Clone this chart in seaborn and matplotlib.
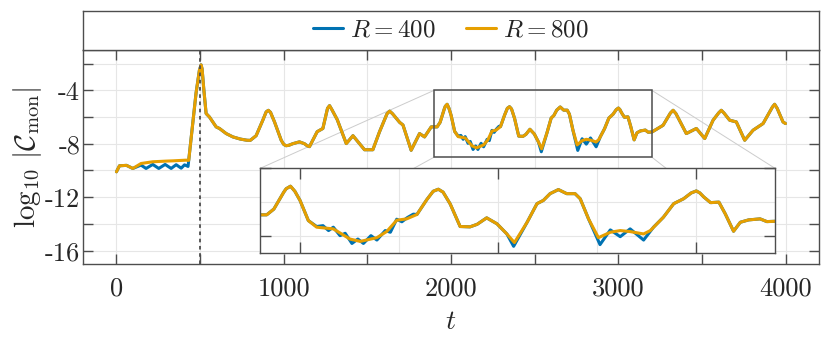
import numpy as np
import pandas as pd
import seaborn as sns
import matplotlib.pyplot as plt
from matplotlib.patches import Rectangle, ConnectionPatch
from matplotlib.lines import Line2D

# values (log10 of the monitor quantity)
# points where both runs overlap
t_shared = [0, 18, 60, 98, 476, 496, 506, 512, 522, 536, 556, 596, 616, 656, 696, 740, 780, 800,
            835, 875, 895, 908, 921, 945, 985, 1000, 1014, 1030, 1054, 1094, 1124, 1140, 1154,
            1200, 1234, 1262, 1274, 1288, 1320, 1374, 1414, 1453, 1483, 1533, 1573, 1618, 1633,
            1650, 1693, 1713, 1762, 1812, 1842, 1882, 1917, 1935, 1960, 1966, 1977, 1988, 2001,
            2022, 2321, 2337, 2350, 2362, 2380, 2405, 2430, 2448, 2472, 2498, 2523, 2574, 2599,
            2615, 2632, 2653, 2674, 2695, 2708, 2729, 2918, 2944, 2969, 2988, 3001, 3010, 3020,
            3037, 3058, 3074, 3095, 3112, 3133, 3162, 3179, 3202, 3268, 3312, 3328, 3345, 3407,
            3467, 3517, 3567, 3600, 3616, 3632, 3666, 3706, 3756, 3806, 3866, 3922, 3935, 3950,
            3985, 4000]
logc_shared = [-10.1, -9.65, -9.62, -9.85, -4.2, -2.5, -2.1, -2.4, -3.9, -5.74, -6.0, -6.74, -6.86,
               -7.24, -7.49, -7.65, -7.74, -7.75, -7.4, -6.24, -5.62, -5.5, -5.65, -6.37, -7.74,
               -8.05, -8.15, -8.12, -8.0, -7.86, -8.0, -8.15, -8.22, -7.1, -6.86, -5.35, -5.15,
               -5.45, -6.2, -7.99, -7.4, -7.99, -8.45, -8.45, -7.1, -5.75, -5.56, -5.75, -6.4,
               -6.6, -8.49, -7.24, -7.49, -6.74, -6.74, -6.4, -5.4, -5.2, -5.05, -5.35, -5.89,
               -7.08, -5.84, -5.35, -5.23, -5.4, -6.1, -7.43, -7.45, -7.3, -6.92, -7.27, -7.87,
               -7.18, -6.08, -5.89, -5.49, -5.25, -5.49, -5.49, -5.79, -6.98, -6.88, -6.08, -5.79,
               -5.45, -5.33, -5.45, -5.69, -6.02, -5.99, -6.68, -7.71, -7.18, -7.04, -6.98, -7.14,
               -7.12, -6.62, -5.7, -5.5, -5.75, -7.24, -6.86, -7.61, -6.24, -5.7, -5.5, -5.7,
               -6.24, -6.37, -7.74, -6.99, -6.49, -5.25, -5.05, -5.35, -6.37, -6.49]

# R = 800 where it differs from R = 400
t_800 = [147, 217, 260, 300, 340, 380, 416, 432, 2043, 2085, 2127, 2153, 2195, 2220, 2245, 2270,
         2296, 2542, 2754, 2784, 2809, 2834, 2868, 2885]
logc_800 = [-9.48, -9.35, -9.32, -9.3, -9.28, -9.25, -9.23, -9.25, -7.47, -7.57, -8.17, -8.31,
            -8.09, -7.72, -7.06, -6.98, -6.72, -8.38, -8.09, -7.77, -7.67, -7.73, -7.87, -7.67]

# R = 400 where it differs from R = 800
t_400 = [147, 177, 217, 253, 291, 327, 357, 387, 407, 428, 2043, 2059, 2073, 2085, 2102, 2115,
         2132, 2147, 2161, 2180, 2195, 2216, 2229, 2245, 2258, 2272, 2287, 2296, 2540, 2758,
         2784, 2809, 2834, 2868, 2893]
logc_400 = [-9.6, -9.85, -9.55, -9.85, -9.55, -9.85, -9.57, -9.83, -9.58, -9.7, -7.43, -7.38,
            -7.67, -7.47, -7.97, -7.83, -8.43, -8.17, -8.43, -7.97, -8.23, -7.67, -7.77, -7.0,
            -7.15, -6.9, -6.7, -6.72, -8.6, -8.5, -7.63, -8.03, -7.57, -8.23, -7.47]

runs = ["400", "800"]
t_switch = 500
zoom_t = (1900, 3200)
zoom_y = (-9, -4)

df_400 = pd.DataFrame({"t": t_shared + t_400, "logC": logc_shared + logc_400, "R": "400"})
df_800 = pd.DataFrame({"t": t_shared + t_800, "logC": logc_shared + logc_800, "R": "800"})
df = pd.concat([df_400, df_800]).sort_values(["R", "t"]).reset_index(drop=True)

sns.set_theme(style="white")
plt.rcParams["font.family"] = "serif"
plt.rcParams["font.serif"] = ["cmr10"]
plt.rcParams["mathtext.fontset"] = "cm"
plt.rcParams["axes.unicode_minus"] = False
plt.rcParams["xtick.direction"] = "in"
plt.rcParams["ytick.direction"] = "in"
plt.rcParams["xtick.bottom"] = True
plt.rcParams["ytick.left"] = True
plt.rcParams["xtick.top"] = True
plt.rcParams["ytick.right"] = True

palette = {"400": "#0072B2", "800": "#E69F00"}
spine_col = "0.3"
grid_col = "#e6e6e6"
lw = 2.2

fig = plt.figure(figsize=(8.3, 3.46), dpi=100)
ax = fig.add_axes([0.1, 0.237, 0.8867, 0.618])
ax_leg = fig.add_axes([0.1, 0.855, 0.8867, 0.113])

# main curves
sns.lineplot(data=df, x="t", y="logC", hue="R", hue_order=runs, palette=palette,
             estimator=None, sort=True, lw=lw, legend=False, ax=ax)
for line in ax.get_lines():
    line.set_solid_joinstyle("round")
ax.axvline(t_switch, color=spine_col, ls=(0, (2, 2)), lw=1.3, zorder=2.5)

ax.set_xlim(-200, 4200)
ax.set_ylim(-17, -1)
xt = np.arange(0, 4001, 500)
ax.set_xticks(xt)
ax.set_xticklabels([str(v) if v % 1000 == 0 else "" for v in xt])
yt = np.arange(-16, -1, 2)
ax.set_yticks(yt)
ax.set_yticklabels([str(v) if v % 4 == 0 else "" for v in yt])
ax.tick_params(length=7, width=1, color=spine_col, labelsize=19)
ax.tick_params(axis="x", pad=9)
ax.tick_params(axis="y", pad=2)
ax.grid(True, color=grid_col, lw=0.8)
ax.set_axisbelow(True)
for s in ax.spines.values():
    s.set_color(spine_col)
    s.set_linewidth(1.0)
ax.set_xlabel(r"$t$", fontsize=20, labelpad=6)
ax.set_ylabel(r"$\log_{10}\,|\mathcal{C}_{\rm mon}|$", fontsize=21, labelpad=1)

# inset zoom
axins = ax.inset_axes([0.2405, 0.051, 0.70, 0.396])
axins.set_facecolor("white")
sns.lineplot(data=df, x="t", y="logC", hue="R", hue_order=runs, palette=palette,
             estimator=None, sort=True, lw=lw, legend=False, ax=axins)
for line in axins.get_lines():
    line.set_solid_joinstyle("round")
axins.set_xlim(*zoom_t)
axins.set_ylim(*zoom_y)
axins.set_xticks([2000, 2500, 3000])
axins.set_xticks(np.arange(2250, 3200, 500), minor=True)
axins.set_yticks([-8, -4])
axins.set_yticks([-6], minor=True)
axins.tick_params(which="major", length=8, width=1, color=spine_col,
                  labelbottom=False, labelleft=False)
axins.tick_params(which="minor", length=0)
axins.grid(True, which="both", color=grid_col, lw=0.8)
axins.set_xlabel("")
axins.set_ylabel("")
for s in axins.spines.values():
    s.set_color(spine_col)
    s.set_linewidth(1.0)

# zoom box and connector lines
ax.add_patch(Rectangle((zoom_t[0], zoom_y[0]), zoom_t[1] - zoom_t[0], zoom_y[1] - zoom_y[0],
                       fill=False, ec=spine_col, lw=1.1, zorder=3))
for xc in zoom_t:
    for yc in zoom_y:
        cp = ConnectionPatch(xyA=(xc, yc), coordsA=ax.transData, xyB=(xc, yc),
                             coordsB=axins.transData, color="0.8", lw=0.7, zorder=1.5)
        ax.add_artist(cp)

# legend box on top
ax_leg.tick_params(left=False, right=False, top=False, bottom=False,
                   labelleft=False, labelbottom=False)
for s in ax_leg.spines.values():
    s.set_color(spine_col)
    s.set_linewidth(1.0)
handles = [Line2D([], [], color=palette[r], lw=lw) for r in runs]
ax_leg.legend(handles, [rf"$R = {r}$" for r in runs], loc="center", ncol=2, frameon=False,
              fontsize=18, handlelength=1.2, handletextpad=0.3, columnspacing=1.2,
              borderpad=0)

fig.savefig("out.png", dpi=100)
